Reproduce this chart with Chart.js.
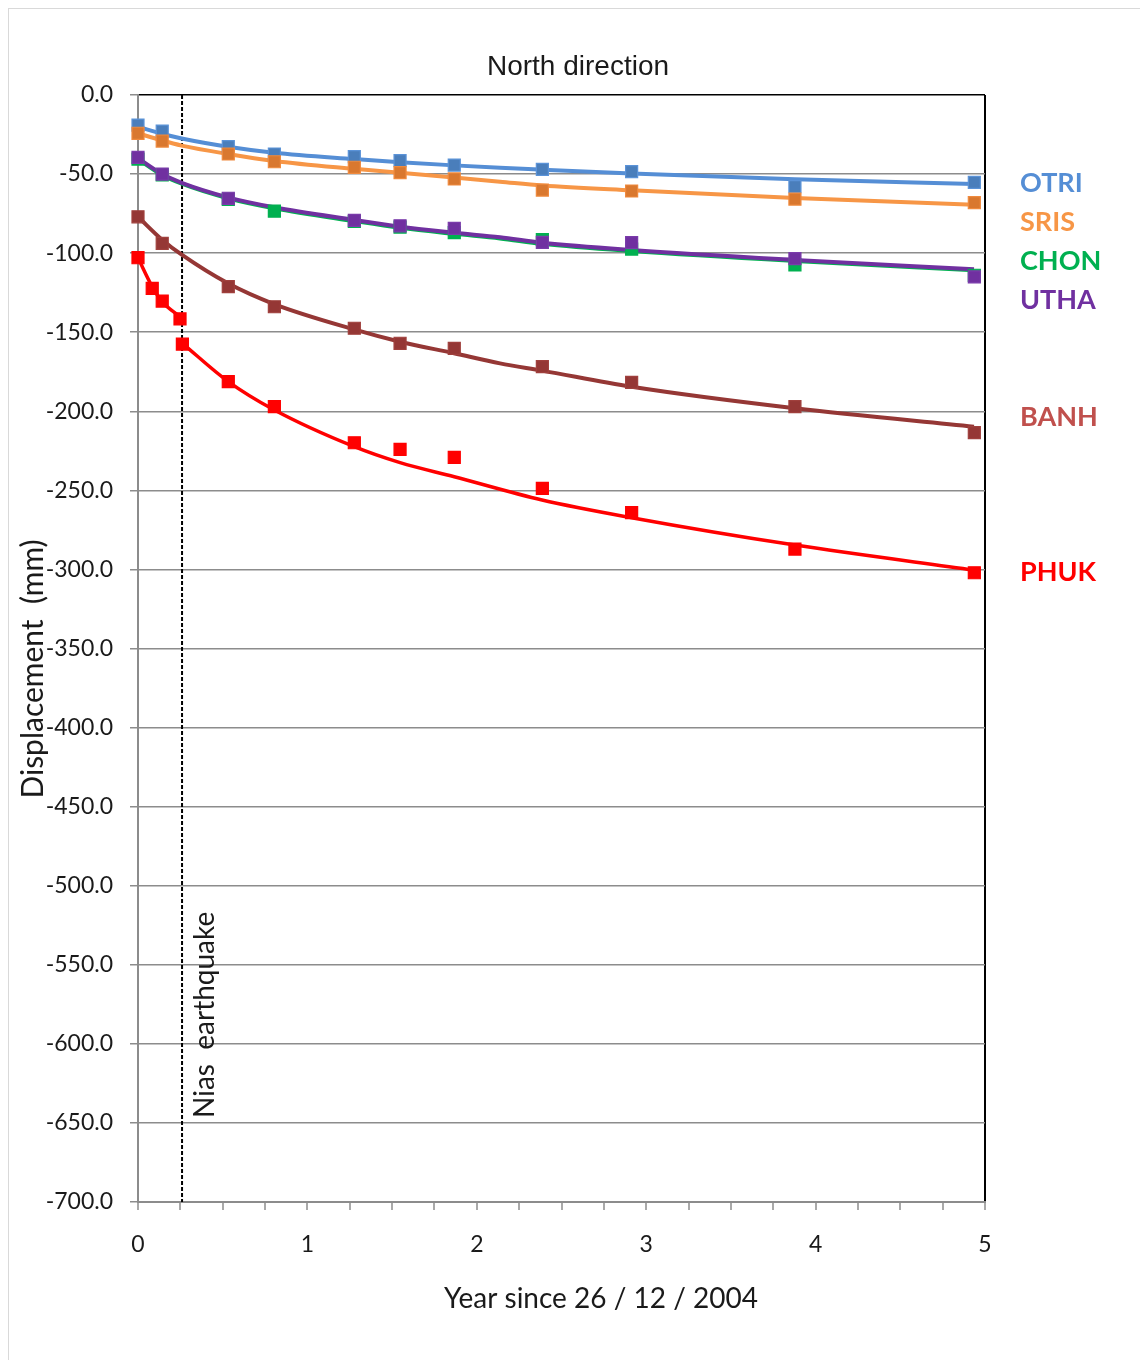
<!DOCTYPE html>
<html>
<head>
<meta charset="utf-8">
<script src="https://cdn.jsdelivr.net/npm/chart.js@4.4.1/dist/chart.umd.min.js"></script>
<style>
  html, body { margin: 0; padding: 0; background: #fff; overflow: hidden; }
  #frame { position: absolute; left: 8px; top: 8px; width: 1200px; height: 1400px; border: 1px solid #d9d9d9; }
  #wrap { position: absolute; left: 0; top: 0; width: 1140px; height: 1360px; }
</style>
</head>
<body>
<div id="frame"></div>
<div id="wrap"><canvas id="c" width="1140" height="1360"></canvas></div>
<script>
// Survey epochs (years since 26/12/2004) shared by most stations
const years = [0, 0.143, 0.533, 0.805, 1.277, 1.547, 1.867, 2.387, 2.914, 3.878, 4.937];

// Observed north displacement (mm)
const otri = [-19.0, -22.8, -32.7, -37.3, -39.0, -41.5, -44.3, -47.0, -48.5, -58.0, -55.2];
const sris = [-24.2, -29.1, -37.3, -42.2, -45.7, -49.1, -53.1, -60.1, -60.7, -65.8, -68.1];
const chon = [-40.5, -50.5, -66.0, -73.4, -80.0, -83.5, -87.0, -91.5, -97.4, -107.5, -114.0];
const utha = [-39.4, -50.0, -65.3, null, -79.3, -82.7, -84.3, -93.2, -93.3, -103.5, -115.0];
const banh = [-77.0, -93.8, -121.2, -133.9, -147.5, -157.0, -160.2, -171.8, -181.7, -197.1, -213.5];

// PHUK has extra early epochs around the Nias event
const phukYears = [0, 0.084, 0.143, 0.248, 0.262, 0.533, 0.805, 1.277, 1.547, 1.867, 2.387, 2.914, 3.878, 4.937];
const phuk = [-102.9, -122.3, -130.3, -141.6, -157.5, -181.3, -197.1, -219.9, -224.1, -229.1, -248.7, -264.1, -287.1, -302.1];

// Post-seismic trend curves (mm) sampled at these times
const fitYears = [0, 0.142, 0.258, 0.531, 0.803, 1.275, 1.547, 1.865, 2.137, 2.385, 2.914, 3.878, 4.935];
const otriFit = [-20.0, -24.5, -27.5, -32.7, -36.5, -40.5, -42.5, -44.5, -46.0, -47.2, -49.6, -53.3, -56.3];
const srisFit = [-24.2, -28.8, -32.0, -37.3, -41.7, -46.7, -49.2, -52.2, -54.8, -57.2, -60.3, -65.2, -69.4];
const chonFit = [-40.6, -50.6, -56.1, -65.3, -71.6, -79.7, -84.0, -87.8, -90.7, -94.1, -98.7, -105.0, -110.8];
const uthaFit = [-40.0, -50.0, -55.5, -64.7, -71.0, -79.0, -83.3, -87.1, -90.0, -93.4, -98.0, -104.3, -110.2];
const banhFit = [-77.0, -91.5, -101.0, -119.1, -132.2, -148.2, -156.0, -163.3, -169.7, -174.3, -184.5, -198.1, -209.8];

// PHUK trend: before and after the Nias earthquake
const phukPreYears = [0, 0.084, 0.142, 0.248];
const phukPreFit = [-102.9, -121.2, -130.7, -140.2];
const phukPostYears = [0.262, 0.529, 0.805, 1.277, 1.547, 1.867, 2.385, 2.914, 3.878, 4.935];
const phukPostFit = [-157.0, -180.9, -199.2, -222.4, -232.5, -241.4, -256.1, -267.3, -284.6, -300.4];

// Nias earthquake, 28/03/2005
const niasYear = 0.26;

// Station names and where their names sit on the displacement axis
const stations = ['OTRI', 'SRIS', 'CHON', 'UTHA', 'BANH', 'PHUK'];
const stationLabelAt = [-56, -80.5, -105, -130, -204, -302];

const yTicks = { min: -700, max: 0, step: 50 };
const xTicks = { min: 0, max: 5 };

const labelColors = ['#558ED5', '#F79646', '#00B050', '#7030A0', '#C0504D', '#FF0000'];

const pts = (xs, ys) => xs.map((x, i) => ({ x, y: ys[i] })).filter(p => p.y !== null);

function markers(label, xs, ys, fill, border, order) {
  return {
    label, data: pts(xs, ys), showLine: false, clip: false,
    pointStyle: 'rect', pointRadius: 8.5, pointHoverRadius: 8.5,
    backgroundColor: fill, borderColor: border, borderWidth: 1.2, order
  };
}
function curve(label, xs, ys, color, width, order) {
  return {
    label, data: pts(xs, ys), showLine: true, pointRadius: 0,
    borderColor: color, borderWidth: width, cubicInterpolationMode: 'monotone',
    fill: false, order
  };
}

const datasets = [
  markers('UTHA', years, utha, '#7030A0', '#7A3BAA', 1),
  markers('CHON', years, chon, '#00B050', '#00B050', 2),
  markers('PHUK', phukYears, phuk, '#FF0000', '#FF0000', 3),
  markers('BANH', years, banh, '#953735', '#A0403D', 4),
  markers('SRIS', years, sris, '#D9782F', '#F08A3E', 5),
  markers('OTRI', years, otri, '#4A7EBB', '#5B93D8', 6),
  curve('UTHA fit', fitYears, uthaFit, '#7030A0', 4, 10),
  curve('CHON fit', fitYears, chonFit, '#00B050', 4, 11),
  curve('PHUK fit 1', phukPreYears, phukPreFit, '#FF0000', 3.5, 12),
  curve('PHUK fit 2', phukPostYears, phukPostFit, '#FF0000', 3.5, 13),
  curve('BANH fit', fitYears, banhFit, '#953735', 4, 14),
  curve('SRIS fit', fitYears, srisFit, '#F79646', 4, 15),
  curve('OTRI fit', fitYears, otriFit, '#558ED5', 4, 16),
  {
    label: 'Nias', data: [{ x: niasYear, y: yTicks.max }, { x: niasYear, y: yTicks.min }],
    showLine: true, pointRadius: 0, borderColor: '#000', borderWidth: 2,
    borderDash: [4, 2], order: 30
  }
];

const CALIBRI = 'Lato, "Open Sans", sans-serif';

// Title, axis titles, the Nias note and station names
const textPlugin = {
  id: 'texts',
  afterDraw(chart) {
    const ctx = chart.ctx;
    const ys = chart.scales.y;
    ctx.save();
    ctx.fillStyle = '#1a1a1a';
    ctx.textBaseline = 'middle';

    ctx.font = '28px "Liberation Sans", Arial, sans-serif';
    ctx.textAlign = 'center';
    ctx.fillText('North direction', 578, 67);

    ctx.font = '28px ' + CALIBRI;
    ctx.fillText('Year since 26 / 12 / 2004', 601, 1299);

    ctx.save();
    ctx.translate(33, 669);
    ctx.rotate(-Math.PI / 2);
    ctx.font = '30px ' + CALIBRI;
    ctx.fillText('Displacement  (mm)', 0, 0);
    ctx.restore();

    ctx.save();
    ctx.translate(205, 1118);
    ctx.rotate(-Math.PI / 2);
    ctx.textAlign = 'left';
    ctx.font = '28px ' + CALIBRI;
    ctx.fillText('Nias  earthquake', 0, 0);
    ctx.restore();

    ctx.font = 'bold 27px ' + CALIBRI;
    ctx.textAlign = 'left';
    stations.forEach((s, i) => {
      ctx.fillStyle = labelColors[i];
      ctx.fillText(s, 1020, ys.getPixelForValue(stationLabelAt[i]));
    });
    ctx.restore();
  }
};

new Chart(document.getElementById('c'), {
  type: 'scatter',
  data: { datasets },
  plugins: [textPlugin],
  options: {
    responsive: false,
    animation: false,
    devicePixelRatio: 1,
    layout: { padding: { top: 95, right: 155, left: 0, bottom: 0 } },
    plugins: { legend: { display: false }, tooltip: { enabled: false }, title: { display: false } },
    scales: {
      x: {
        type: 'linear', min: xTicks.min, max: xTicks.max,
        afterFit: s => { s.height = 158; },
        border: { color: '#8c8c8c', width: 2 },
        grid: {
          drawOnChartArea: true,
          color: c => (c.tick && c.tick.value === xTicks.max ? '#000' : 'rgba(0,0,0,0)'),
          lineWidth: 2,
          tickColor: '#8c8c8c', tickLength: 8, tickWidth: 1.5
        },
        ticks: {
          stepSize: 0.25, autoSkip: false, maxRotation: 0,
          padding: 21, color: '#1a1a1a',
          font: { family: CALIBRI, size: 23 },
          callback: v => (Number.isInteger(v) ? String(v) : '')
        }
      },
      y: {
        type: 'linear', min: yTicks.min, max: yTicks.max,
        afterFit: s => { s.width = 138; },
        border: { color: '#8c8c8c', width: 2 },
        grid: {
          color: c => (c.tick && c.tick.value === yTicks.max ? '#000' : '#8c8c8c'),
          lineWidth: 1.5,
          tickColor: '#8c8c8c', tickLength: 8, tickWidth: 1.5
        },
        ticks: {
          stepSize: yTicks.step, padding: 17, color: '#1a1a1a',
          font: { family: CALIBRI, size: 23 },
          callback: v => v.toFixed(1)
        }
      }
    }
  }
});
</script>
</body>
</html>
